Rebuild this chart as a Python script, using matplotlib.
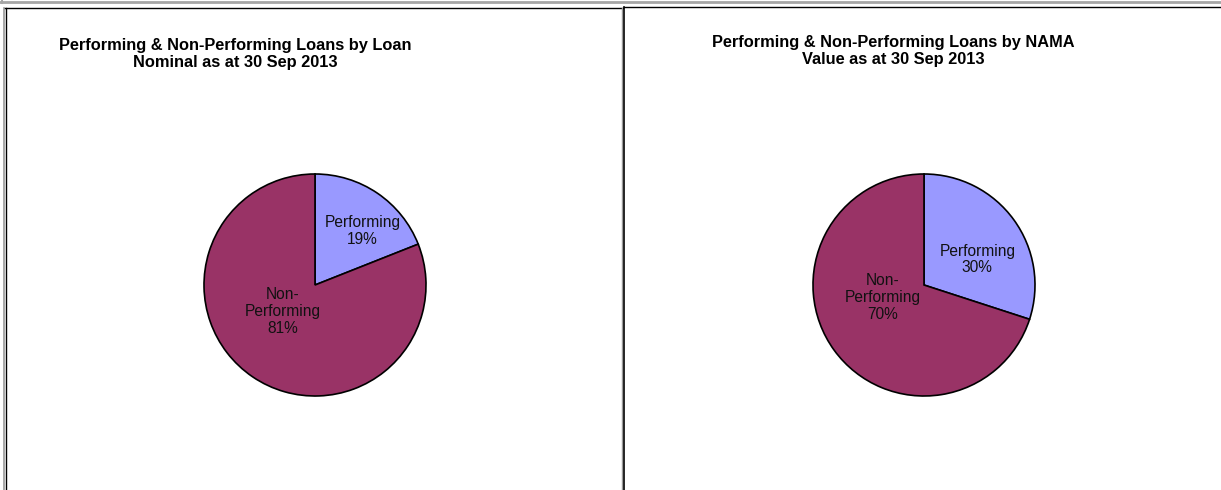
import matplotlib
matplotlib.use("Agg")
import matplotlib.pyplot as plt
from matplotlib.lines import Line2D

plt.rcParams['font.family'] = ['Liberation Sans', 'DejaVu Sans']

W, H = 1221, 490

categories = ["Performing", "Non-\nPerforming"]
nominal_share = [19, 81]
nama_share = [30, 70]
colors = ["#9999FF", "#993366"]

titles = [
    "Performing & Non-Performing Loans by Loan\nNominal as at 30 Sep 2013",
    "Performing & Non-Performing Loans by NAMA\nValue as at 30 Sep 2013",
]

fig = plt.figure(figsize=(W / 100, H / 100), dpi=100)


def px_line(xs, ys, color, lw):
    fig.add_artist(Line2D([x / W for x in xs], [1 - y / H for y in ys],
                          transform=fig.transFigure, color=color, lw=lw))


# outer frame + panel borders
px_line([0, W], [2, 2], "#a6a6a6", 2.0)
px_line([1.5, 1.5], [0, 3], "#a6a6a6", 1.5)
px_line([3.5, 3.5], [8, H], "#9a9a9a", 1.2)
px_line([5.5, 5.5], [8, H], "black", 1.0)
px_line([5, 623], [8.5, 8.5], "black", 1.0)
px_line([622, 622], [8, H], "#9a9a9a", 1.0)
px_line([624, 624], [7, H], "black", 1.2)
px_line([624, W], [7.5, 7.5], "black", 1.0)


def draw_pie(cx, cy, values, title, title_x, title_y, label_pos):
    r = 111
    half = 120
    ax = fig.add_axes([(cx - half) / W, (H - cy - half) / H, 2 * half / W, 2 * half / H])
    ax.pie(values, colors=colors, startangle=90, counterclock=False,
           wedgeprops=dict(edgecolor="black", linewidth=1.2))
    lim = half / r
    ax.set_xlim(-lim, lim)
    ax.set_ylim(-lim, lim)
    ax.set_aspect("equal")
    ax.axis("off")
    for cat, val, (lx, ly) in zip(categories, values, label_pos):
        ax.text(lx, ly, f"{cat}\n{val}%", ha="center", va="center",
                fontsize=11.2, linespacing=1.15, color="#111111")
    fig.text(title_x / W, 1 - title_y / H, title, ha="center", va="center",
             fontsize=11.8, fontweight="bold", linespacing=1.15)


draw_pie(315, 285, nominal_share, titles[0], 235, 54,
         [(0.43, 0.49), (-0.29, -0.24)])
draw_pie(924, 285, nama_share, titles[1], 893, 51,
         [(0.48, 0.23), (-0.37, -0.11)])

fig.savefig("out.png", dpi=100)
